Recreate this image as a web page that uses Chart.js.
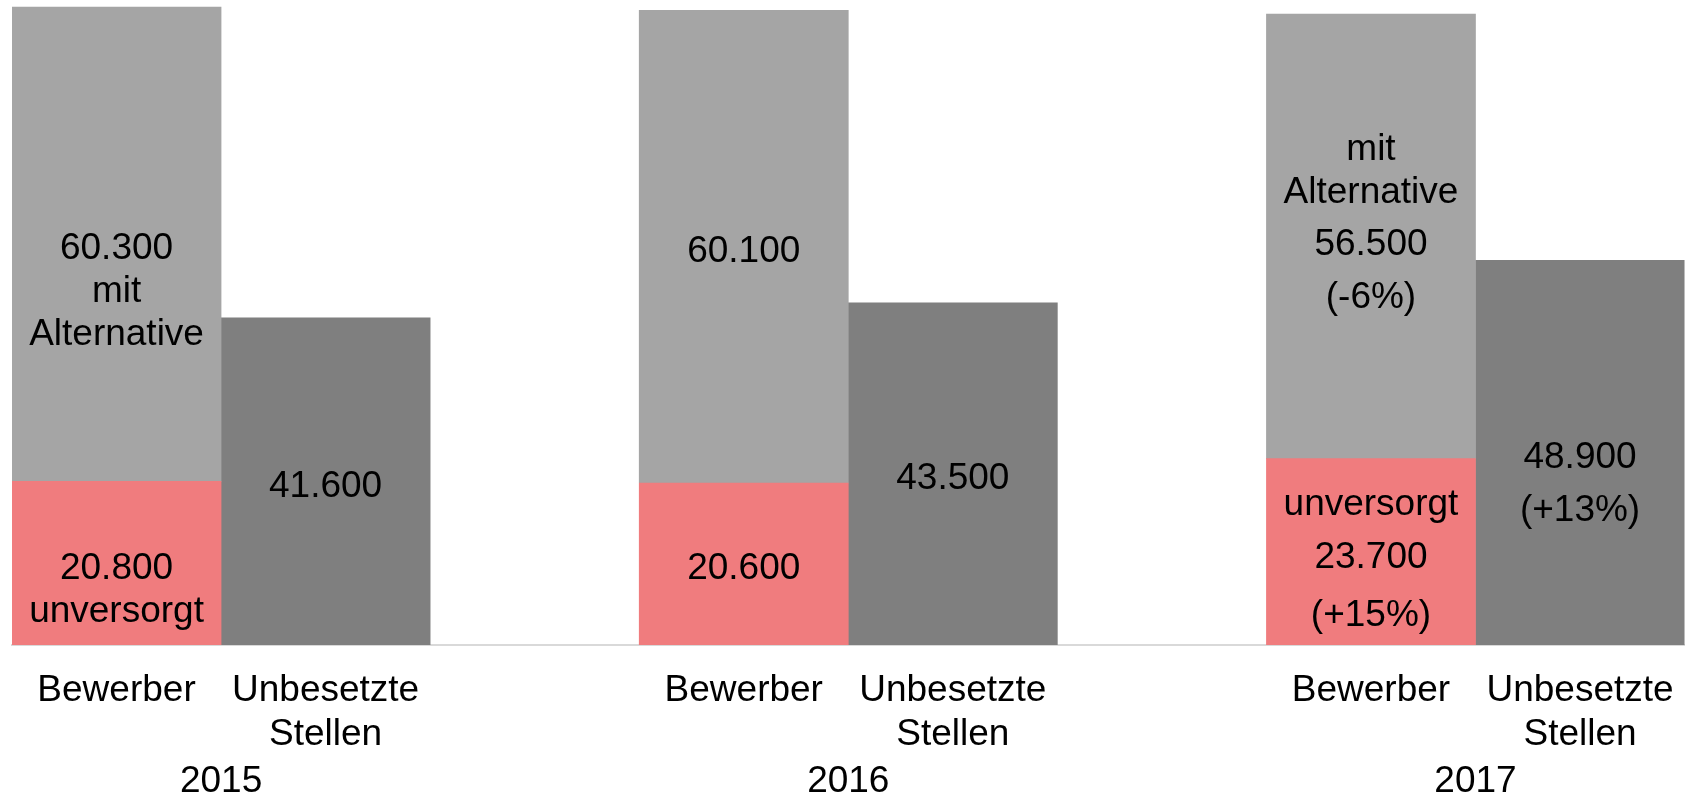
<!DOCTYPE html>
<html lang="de">
<head>
<meta charset="utf-8">
<title>Bewerber und unbesetzte Stellen 2015-2017</title>
<script src="https://cdn.jsdelivr.net/npm/chart.js@4.4.1/dist/chart.umd.min.js"></script>
<style>
    html, body { margin: 0; padding: 0; background: #ffffff; }
    #chart { display: block; }
</style>
</head>
<body>
<canvas id="chart" width="1698" height="804"></canvas>
<script>
// Data
const years = ["2015", "2016", "2017"];
const barLabels = ["Bewerber", ["Unbesetzte", "Stellen"]];

const unversorgt = [20800, 20600, 23700];
const mitAlternative = [60300, 60100, 56500];
const unbesetzteStellen = [41600, 43500, 48900];

// Texts shown inside the bars
const unversorgtText = [["20.800", "unversorgt"], ["20.600"], ["unversorgt", "23.700", "(+15%)"]];
const mitAlternativeText = [["60.300", "mit", "Alternative"], ["60.100"], ["mit", "Alternative", "56.500", "(-6%)"]];
const unbesetzteText = [["41.600"], ["43.500"], ["48.900", "(+13%)"]];

const fontFamily = "'Liberation Sans', Arial, sans-serif";
const fontSize = 37;

const colors = {
    unversorgt: "#F07C7E",
    mitAlternative: "#A5A5A5",
    unbesetzt: "#7F7F7F",
    axis: "#D9D9D9",
    text: "#000000",
};

// One slot per bar, plus an empty slot between the years
const slots = [];
years.forEach((year, i) => {
    if (i > 0) slots.push({ label: "", year: -1, kind: "gap" });
    slots.push({ label: barLabels[0], year: i, kind: "bewerber" });
    slots.push({ label: barLabels[1], year: i, kind: "stellen" });
});

const pick = (kind, values) =>
    slots.map((s) => (s.kind === kind ? values[s.year] : null));

// Year axis: one label per slot boundary, the year sits between its two bars
const yearAxisLabels = [""];
slots.forEach((s) => {
    yearAxisLabels.push(s.kind === "bewerber" ? years[s.year] : "");
});

// Draws the multi-line value labels inside each bar segment
const barText = {
    id: "barText",
    afterDatasetsDraw(chart, args, opts) {
        const { ctx } = chart;
        ctx.save();
        ctx.font = `${fontSize}px ${fontFamily}`;
        ctx.fillStyle = colors.text;
        ctx.textAlign = "center";
        ctx.textBaseline = "middle";
        chart.data.datasets.forEach((ds, di) => {
            const meta = chart.getDatasetMeta(di);
            meta.data.forEach((bar, i) => {
                const lines = ds.texts[i];
                if (!lines) return;
                const { x, y, base } = bar.getProps(["x", "y", "base"], true);
                const tweak = opts.tweaks[`${ds.key}-${slots[i].year}`] || { dy: 5 };
                const gaps = lines
                    .slice(1)
                    .map((_, k) => (tweak.gaps ? tweak.gaps[k] : 43));
                const total = gaps.reduce((a, b) => a + b, 0);
                let cy = (y + base) / 2 + (tweak.dy || 0) - total / 2;
                lines.forEach((t, k) => {
                    ctx.fillText(t, x, cy);
                    cy += gaps[k] || 0;
                });
            });
        });
        ctx.restore();
    },
};

const ctx = document.getElementById("chart");

new Chart(ctx, {
    type: "bar",
    data: {
        labels: slots.map((s) => s.label),
        datasets: [
            {
                key: "unv",
                label: "unversorgt",
                data: pick("bewerber", unversorgt),
                texts: pick("bewerber", unversorgtText),
                backgroundColor: colors.unversorgt,
                xAxisID: "x",
            },
            {
                key: "alt",
                label: "mit Alternative",
                data: pick("bewerber", mitAlternative),
                texts: pick("bewerber", mitAlternativeText),
                backgroundColor: colors.mitAlternative,
                xAxisID: "x",
            },
            {
                key: "unb",
                label: "Unbesetzte Stellen",
                data: pick("stellen", unbesetzteStellen),
                texts: pick("stellen", unbesetzteText),
                backgroundColor: colors.unbesetzt,
                xAxisID: "x",
            },
        ],
    },
    options: {
        responsive: false,
        animation: false,
        barPercentage: 1,
        categoryPercentage: 1,
        borderWidth: 0,
        layout: {
            padding: { left: 12, right: 6, top: 0, bottom: 0 },
        },
        scales: {
            x: {
                stacked: true,
                offset: true,
                grid: { display: false, drawTicks: false },
                border: { display: true, color: colors.axis, width: 2 },
                ticks: {
                    autoSkip: false,
                    maxRotation: 0,
                    padding: 24,
                    color: colors.text,
                    font: { family: fontFamily, size: fontSize, lineHeight: 1.18 },
                },
                afterFit: (axis) => {
                    axis.height = 111;
                },
            },
            years: {
                type: "category",
                axis: "x",
                position: "bottom",
                labels: yearAxisLabels,
                offset: false,
                grid: { display: false, drawTicks: false },
                border: { display: false },
                ticks: {
                    autoSkip: false,
                    maxRotation: 0,
                    padding: 4,
                    color: colors.text,
                    font: { family: fontFamily, size: fontSize, lineHeight: 1.16 },
                },
                afterFit: (axis) => {
                    axis.height = 48;
                },
            },
            y: {
                stacked: true,
                display: false,
                min: 0,
                max: 82000,
            },
        },
        plugins: {
            legend: { display: false },
            tooltip: { enabled: false },
            barText: {
                tweaks: {
                    "alt-0": { dy: 48 },
                    "unv-0": { dy: 27 },
                    "alt-2": { dy: -13, gaps: [43, 52, 53] },
                    "unv-2": { dy: 9, gaps: [53, 58] },
                    "unb-2": { dy: 32, gaps: [53] },
                },
            },
        },
    },
    plugins: [barText],
});
</script>
</body>
</html>
